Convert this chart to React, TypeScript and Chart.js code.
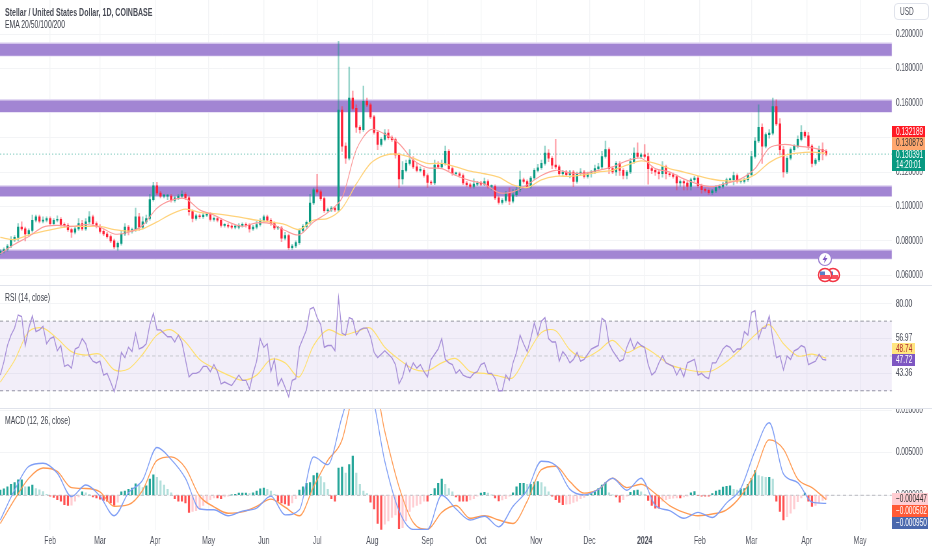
import React, { useEffect, useRef } from "react";
import { Chart, registerables } from "chart.js";
Chart.register(...registerables);

const FONT = '"Liberation Sans", sans-serif';
// The picture is horizontally condensed: each canvas is drawn wider and shown at page width
const SQUEEZE = 0.65;
const PAGE_W = 932;
const CANVAS_W = PAGE_W / SQUEEZE;
const AXIS_W = 40 / SQUEEZE;

// One candle every two days, prices in thousandths of a dollar
const closes = [
  74,75,77,80.5,82,88,87,84,86,92,94,91.5,92,93,
  90,92,92.5,89.5,89,86.5,85,87,90,87,91,94,90,88.5,
  85.5,84,82.5,80,76.5,78.5,84,88,85.5,86.5,94,88,91,93,104,112,
  107.8,106,106,106,103.5,105,106,107,105,97,93,94.5,94,95,95.5,
  92.5,93,92,89,89,88.5,88,88,89,89.5,89,87,88,89.5,92,
  94,92,90,87.5,87.5,81.5,83,76,77,79,86,88.4,90.7,102,109.7,
  108.5,104.5,97.5,98,99,98,156,135,128,163,157,146,144.6,161,159,152,
  143,136,139,142.6,140,138.8,130,116,121,125,127,123,121,121,118,
  114,113.6,124,123,125,132,122,119,119,118,113.6,112.6,111.6,113,113.6,
  113,114.5,111.6,111.6,105,102.3,103.5,107.8,103,106.8,109.7,115.5,114.5,111.6,116.5,121,
  122.5,125,131,128,124,123,119,120,118.5,120,114.5,119,120,117.4,119,
  120,122,123,129,133,122,120,125,121,118,120,126,131,129,130,
  129,122,121,120,119,123,119,118.4,117.4,113.6,114.5,113.6,111.6,115.5,116.5,112,
  109.7,109.3,108,109,111,111.6,113,115.5,115.5,118,114.5,114.5,115.5,118.4,
  129,138,146,135,141.7,142.6,158,148,133,120,128,133,135,139,143,141,
  135,125,127,133,132,130.4,
];
const upperWicks = [
  1,1,1,2,1,2,3,1,1,3,1,1,2,1,
  1,1,2,1,1,1,1,1,3,2,2,3,1,1,
  1,1,1,1,1,1,2,2,1,1,5,2,3,2,3,2,
  2,1,1,1,1,1,1,2,1,1,1,1,1,1,1,
  1,1,1,1,1,1,1,1,1,1,1,1,1,2,1,
  1,1,1,1,1,1,2,1,1,1,1,1,1,5,1,
  9,1,1,1,1,1,40,2,2,18,4,2,1,9,2,1,
  1,1,1,2,2,1,1,1,5,2,6,2,2,2,1,
  1,1,3,2,2,3,1,1,1,1,1,1,1,3,1,
  1,2,1,1,1,1,1,1,3,3,2,5,1,1,1,1,
  2,2,4,2,1,15,1,1,1,1,1,1,2,1,1,
  1,2,2,3,5,1,1,1,1,1,1,2,3,6,1,
  6,2,1,1,1,3,1,1,1,1,1,1,1,1,1,1,
  1,1,1,1,1,1,1,1,1,2,1,1,1,1,
  3,2,13,2,1,2,5,4,3,2,1,1,1,2,4,1,
  2,1,1,2,4,1,
];
const lowerWicks = [
  1,1,1,1,1,2,1,4,1,1,1,1,1,1,
  1,1,1,1,1,1,3,1,1,1,1,1,1,1,
  1,1,1,1,1,2,1,1,2,1,1,2,1,1,1,1,
  1,1,1,2,1,1,1,1,1,2,2,1,1,1,1,
  1,1,1,1,1,1,1,1,1,1,1,2,1,1,1,
  1,1,1,1,1,2,1,1,1,1,1,1,1,1,1,
  1,1,1,1,1,1,1,3,3,1,1,3,2,1,1,1,
  1,3,1,1,1,1,2,5,3,1,1,1,1,1,1,
  3,1,1,1,1,1,1,1,1,1,1,1,1,1,1,
  1,1,1,2,1,1,1,1,2,1,1,1,1,1,1,1,
  1,1,1,2,2,1,1,1,1,2,3,1,1,1,1,
  2,1,1,1,1,3,1,2,3,2,2,1,1,1,1,
  1,9,2,2,3,2,3,1,1,4,2,4,2,2,1,1,
  2,1,1,1,1,1,1,1,1,3,1,1,1,1,
  1,1,1,10,1,2,1,1,3,3,1,1,1,1,1,1,
  2,2,1,1,5,1,
];
const rsi = [
  39,46.7,56,62,66,73.5,72.6,56,66,73,64,65,67,57,
  60,61,53,56,44,45,43,54,55,60,57,50,47,46,
  47,39,40,35,29.5,38,52,49,55,52.5,63,54,55,57,68,74.5,
  65,65,63,61,61,58,62,58,48,38,40,40,41,44,44,
  41,45,41,34,35,34,33,36,39,36,36,31,40,47,60,
  55,57,41,48,33,37,32,26.6,36,37,55,60,65,77,78,
  72,68,55,56,56,53,83.5,63,62,72,71,62,65,66,66,61,
  52,49,51,53,51,49,45,34,38,46,41,46,43,45,41,
  38,48,51,54,60,48,46,45,40,42,39,38,37.5,40,41,
  45,46,40,40,37,30,30,39,36,46,52,62,57,52.5,60,69,
  62,70,72,60,58,58,47,52.5,50,46,48,52,47,48,51,
  54,55,56,71.6,70,57,53,50,47,48,55,60,54,58,56,
  55,45,39,41,46,50,46,45,44,39,43,38,46,47,48,39,
  40,38,37,46,46,50,54,56,55,52,54,54,64,62,
  75,76,60,66,66,73,60,49,50,42,50,48,53,54,56,55,
  45,46,47,51,48,47.72,
];
const histogram = [
  .6,.75,1,1.3,1.5,1.8,1.8,1,1,1.2,.8,.65,.45,.1,
  -.1,-.25,-.5,-.7,-1.1,-1.2,-1.15,-.7,-.2,.4,.3,.1,-.2,-.3,
  -.45,-.6,-.7,-.9,-1.2,-.8,.4,.5,.7,.85,1.35,1.2,.9,1.1,1.9,2.4,
  2.1,1.7,1.2,.7,.3,-.4,-.7,-.7,-.9,-2,-1.9,-1.8,-1.6,-1.2,-.8,
  -.5,-.3,-.3,-.4,-.2,-.1,.05,.1,.25,.25,.25,.2,.3,.5,.75,
  .85,.7,.5,.1,-.7,-.9,-1,-1.2,-.9,-.4,.6,1,1.4,1.5,2.3,
  2.6,2.2,1.5,.7,-.4,-.7,3.2,3.3,2.6,3.6,4.6,2.6,1.3,.5,.2,-.8,
  -1.6,-3.3,-4,-3.4,-3,-2.6,-2.3,-3.9,-3.8,-3,-1.9,-1.4,-1.2,-1,-.7,
  -.7,.1,.8,1.4,1.9,1.3,.8,.4,-.2,-.7,-.7,-.7,-.55,-.4,-.1,
  .25,.35,.25,.05,-.3,-.65,-.55,-.4,-.1,.3,1,1.4,1.4,1.3,1.3,1.55,
  1.6,1.5,1,.4,-.1,-.5,-.85,-1.1,-1.05,-1,-.85,-.7,-.4,-.25,.05,
  .2,.5,.8,1.2,1.5,.3,.05,-.2,-.8,-.5,-.1,.35,.55,.6,.4,
  .1,-.6,-1.2,-1.5,-1.5,-.7,-.5,-.4,-.35,-.3,-.3,-.2,-.1,.3,.45,-.05,
  -.1,-.1,-.1,.2,.5,.6,.95,1.05,1.1,.7,.6,.75,.8,1.3,
  2,2.9,2.3,2.2,2.1,2.1,1.9,-.7,-1.9,-2.9,-2.5,-2.1,-1.6,-.75,-.3,.25,
  -.7,-1.3,-1.2,-.9,-.6,-.447,
];

// Slow series, one reading every eight days
const ema20 = [
  72.5,78,82.5,88,89,88.4,89.5,88,84,85,89,99,103.5,104.5,98,95,91,88.5,90.5,90,86,83.5,
  91,96.5,105,133,144.6,142,136.5,127,122.5,122,118,115,113,108,108.5,112.6,118,121,119.5,119.3,121,
  123,126.5,128,122,120,116,113,111.5,113.5,116,122,134,136,135,134,132.2,
];
const ema50 = [
  82,80.8,83.5,85.5,87.3,88.4,88.4,88.4,86.5,85.7,87,91,95.5,98.4,96.5,95.8,94.8,93.5,92,91,89.5,86.6,
  92,93,99,113,125,129.7,130.3,128,125,125,123,120.5,119,117,112.5,111,115.5,117.5,117.5,118.3,120,
  121,124,126.5,125,122,120,117.8,115.8,114.8,115,118.5,125.5,129.5,131,131.5,130.87,
];
const rsiMa = [
  35,47.5,64,66,60,52.5,50.5,51,42,42.5,51,62,65,58,48,43,39,36,39,48,46,38,56,65,62,64,66,55,48,42.5,41.5,46,48.5,
  41,40,38.5,37.5,51,63.5,64.5,53.5,49,53,59,52,55.5,51,45,42.5,41,41.5,46.7,54,62,68,57,50,51,48.74,
];
const macdLine = [
  -2.9,.6,3.4,3.75,2.6,-.15,1.2,-.1,-2.4,.3,1.8,5.6,4.2,2,-1.6,-1.7,-2.4,-1.85,-1.5,-.1,-2.3,-1.7,4.5,3.6,9.2,14,12.5,4,-1.8,-4,-4,0,-1.6,
  -2.9,-2.45,-3.7,-1.3,.6,4,3.5,.7,.05,.7,2,.6,2,-1.2,-1.8,-2.7,-2,-2.6,-.9,.8,5.2,8.5,2.5,1.5,-.8,-.95,
];
const signalLine = [
  -3.3,-.5,2,3.2,2.8,.9,.8,.4,-1.3,-1.1,.6,4.1,4.5,3.2,-.1,-1.35,-2.1,-1.95,-1.3,-.45,-1.4,-2.4,1,4.1,6.5,13.5,15,7.5,1,-3.2,-4,-2,-1.2,
  -2.7,-2.4,-2.9,-3.3,-.7,3,3.4,1.6,.25,.7,2,.9,1.3,.2,-1.2,-2,-2.4,-2.2,-1.7,-.1,2.7,6.5,5.4,1.9,.9,-.5,
];

// Support and resistance bands [upper, lower], thousandths of a dollar
const zones = [[194.9, 187.6], [162, 154.8], [112, 105.9], [74.8, 69.6]];
const lastPrice = 130.391;

const monthDays = [28, 56, 87, 117, 148, 178, 209, 240, 270, 301, 331, 362, 393, 422, 453, 483];
const monthLabels = ["Feb", "Mar", "Apr", "May", "Jun", "Jul", "Aug", "Sep", "Oct", "Nov", "Dec", "2024", "Feb", "Mar", "Apr", "May"];
const priceTicks = [60, 80, 100, 120, 140, 160, 180, 200];
const rsiTicks = [40, 60, 80];
const rsiTickLabels = ["43.36", "56.97", "80.00"];
const macdTicks = [0, 5, 10];

const CANDLE_STEP = 2;
const EMA_STEP = 8;
const X_MIN = -0.17;
const X_MAX = 500.96;
const GRID = "#f3f4f6";
const TEXT = "#50535e";
const candleDays = closes.map((_, i) => i * CANDLE_STEP);
const opens = closes.map((c, i) => (i === 0 ? 73 : closes[i - 1]));
const slow = (values: number[]) => values.map((y, i) => ({ x: i * EMA_STEP, y }));
const flat = (y: number) => [{ x: X_MIN, y }, { x: X_MAX, y }];
const lineDefaults = { type: "line", pointRadius: 0, pointHoverRadius: 0, fill: false };
const noPadding = (s: any) => { s.paddingTop = 0; s.paddingBottom = 0; s.paddingLeft = 0; s.paddingRight = 0; };

function xScale(showLabels: boolean) {
  return {
    type: "linear",
    offset: false,
    min: X_MIN,
    max: X_MAX,
    grid: { color: GRID, lineWidth: 1.4, drawTicks: false, offset: false },
    border: { display: false },
    afterBuildTicks: (s: any) => { s.ticks = monthDays.map((value) => ({ value })); },
    afterFit: (s: any) => { s.height = showLabels ? 20 : 0; noPadding(s); },
    ticks: {
      display: showLabels,
      autoSkip: false,
      maxRotation: 0,
      padding: 5,
      color: TEXT,
      font: (c: any) => ({ family: FONT, size: 10.5, weight: monthLabels[c.index] === "2024" ? "bold" : "normal" }),
      callback: (_: any, i: number) => monthLabels[i],
    },
  };
}
function yScale(min: number, max: number, tickValues: number[], label: (v: number, i: number) => string) {
  return {
    position: "right",
    min,
    max,
    grid: { color: GRID, drawTicks: false },
    border: { display: false },
    afterBuildTicks: (s: any) => { s.ticks = tickValues.map((value) => ({ value })); },
    afterFit: (s: any) => { s.width = AXIS_W; noPadding(s); },
    ticks: { padding: 6, color: TEXT, font: { family: FONT, size: 10 }, callback: label },
  };
}
const baseOptions = {
  responsive: false,
  animation: false,
  events: [],
  layout: { padding: 0 },
  plugins: { legend: { display: false }, tooltip: { enabled: false }, title: { display: false } },
};

function priceConfig() {
  const zoneSets = zones.flatMap(([hi, lo]) => [
    { ...lineDefaults, data: flat(hi), borderColor: "#e3daf3", borderWidth: 1.5, fill: "+1", backgroundColor: "#a285d3", order: 10 },
    { ...lineDefaults, data: flat(lo), borderColor: "#e3daf3", borderWidth: 1.5, order: 10 },
  ]);
  return {
    type: "bar",
    data: {
      datasets: [
        ...zoneSets,
        { ...lineDefaults, data: flat(lastPrice), borderColor: "rgba(8,153,129,0.5)", borderWidth: 1, borderDash: [2, 3], order: 9 },
        {
          data: candleDays.map((x, i) => ({
            x,
            y: [Math.min(opens[i], closes[i]) - lowerWicks[i], Math.max(opens[i], closes[i]) + upperWicks[i]],
          })),
          backgroundColor: closes.map((c, i) => (c >= opens[i] ? "rgba(8,153,129,0.42)" : "rgba(255,40,60,0.42)")),
          barThickness: 1.8,
          grouped: false,
          order: 6,
        },
        {
          data: candleDays.map((x, i) => ({ x, y: [opens[i], closes[i]] })),
          backgroundColor: closes.map((c, i) => (c >= opens[i] ? "#089981" : "#ff1f35")),
          barThickness: 2.7,
          minBarLength: 1,
          grouped: false,
          order: 5,
        },
        { ...lineDefaults, data: slow(ema50), borderColor: "#ffd27a", borderWidth: 1.3, tension: 0.3, order: 4 },
        { ...lineDefaults, data: slow(ema20), borderColor: "#fb9a9a", borderWidth: 1.2, tension: 0.3, order: 3 },
      ],
    },
    options: {
      ...baseOptions,
      scales: {
        x: xScale(false),
        y: yScale(54.36, 219.94, priceTicks, (v: number) => (v / 1000).toFixed(6)),
      },
    },
  };
}
function rsiConfig() {
  const dash = { ...lineDefaults, borderColor: "#9598a1", borderWidth: 1, borderDash: [5, 4] };
  return {
    type: "line",
    data: {
      datasets: [
        { ...dash, data: flat(70), fill: "+1", backgroundColor: "rgba(126,87,194,0.1)", order: 9 },
        { ...dash, data: flat(30), order: 9 },
        { ...dash, data: flat(50), borderColor: "#c6c8ce", order: 8 },
        { ...lineDefaults, data: slow(rsiMa), borderColor: "#ffdf6b", borderWidth: 1.2, tension: 0.3, order: 3 },
        { ...lineDefaults, data: candleDays.map((x, i) => ({ x, y: rsi[i] })), borderColor: "#a78fd8", borderWidth: 1.4, order: 2 },
      ],
    },
    options: {
      ...baseOptions,
      scales: {
        x: xScale(false),
        y: yScale(20.1, 90.2, rsiTicks, (v: number) => rsiTickLabels[rsiTicks.indexOf(v)]),
      },
    },
  };
}
function macdConfig() {
  const histColor = (v: number, i: number) => {
    const prev = i > 0 ? histogram[i - 1] : 0;
    if (v >= 0) return v >= prev ? "#26a69a" : "#b2dfdb";
    return v <= prev ? "#ff5252" : "#ffcdd2";
  };
  return {
    type: "bar",
    data: {
      datasets: [
        { ...lineDefaults, data: flat(0), borderColor: "#b9bbc1", borderWidth: 1, borderDash: [5, 4], order: 9 },
        {
          data: candleDays.map((x, i) => ({ x, y: histogram[i] })),
          backgroundColor: histogram.map(histColor),
          barThickness: 2.6,
          grouped: false,
          order: 5,
        },
        { ...lineDefaults, data: slow(signalLine), borderColor: "#ff9a52", borderWidth: 1.4, cubicInterpolationMode: "monotone", order: 3 },
        { ...lineDefaults, data: slow(macdLine), borderColor: "#7f9ef5", borderWidth: 1.4, cubicInterpolationMode: "monotone", order: 2 },
      ],
    },
    options: {
      ...baseOptions,
      scales: {
        x: xScale(true),
        y: yScale(-4.07, 10.12, macdTicks, (v: number) => (v / 1000).toFixed(6)),
      },
    },
  };
}

function Pane({ top, height, make }: { top: number; height: number; make: () => any }) {
  const ref = useRef<HTMLCanvasElement>(null);
  useEffect(() => {
    const chart = new Chart(ref.current as any, make());
    return () => chart.destroy();
  }, []);
  return <canvas ref={ref} width={CANVAS_W} height={height} style={{ position: "absolute", left: 0, top, width: PAGE_W, height }} />;
}

const narrow = { transform: `scaleX(${SQUEEZE})`, transformOrigin: "left center", whiteSpace: "nowrap" as const };

function Label({ x, y, text, size = 10, color = "#3d404a", weight = 400 }: any) {
  return (
    <div style={{ ...narrow, position: "absolute", left: x, top: y, font: `${weight} ${size}px ${FONT}`, color, lineHeight: "12px" }}>
      {text}
    </div>
  );
}
function Badge({ top, height, right, bg, color, lines }: any) {
  return (
    <div style={{ position: "absolute", left: 892, top, width: right - 892, height, background: bg, color, font: `10px ${FONT}`, lineHeight: `${height / lines.length}px`, paddingLeft: 4, boxSizing: "border-box" }}>
      {lines.map((l: string) => <div key={l} style={narrow}>{l}</div>)}
    </div>
  );
}
function FlagCircle({ cx }: { cx: number }) {
  return (
    <svg style={{ position: "absolute", left: cx - 8, top: 267 }} width={16} height={16}>
      <circle cx={8} cy={8} r={6.5} fill="#fff" stroke="#f23645" strokeWidth={1.5} />
      <rect x={3} y={8} width={10} height={4} fill="#f7525f" />
      <rect x={3} y={4.5} width={5} height={3.5} fill="#5b7fc7" />
    </svg>
  );
}

export default function App() {
  return (
    <div style={{ position: "fixed", left: 0, top: 0, width: PAGE_W, height: 550, background: "#fff", overflow: "hidden" }}>
      <Pane top={0} height={285} make={priceConfig} />
      <div style={{ position: "absolute", left: 0, top: 285, width: PAGE_W, height: 1, background: "#e0e3eb" }} />
      <Pane top={286} height={122} make={rsiConfig} />
      <div style={{ position: "absolute", left: 0, top: 408, width: PAGE_W, height: 1, background: "#e0e3eb" }} />
      <Pane top={409} height={141} make={macdConfig} />

      <Label x={5} y={5.5} text="Stellar / United States Dollar, 1D, COINBASE" size={10.8} weight={700} color="#4a4d57" />
      <Label x={5} y={18} text="EMA 20/50/100/200" size={10.5} />
      <Label x={5} y={291} text="RSI (14, close)" size={10.5} />
      <Label x={5} y={414} text="MACD (12, 26, close)" size={10.5} />

      <div style={{ position: "absolute", left: 894, top: 3, width: 35, height: 17, border: "1px solid #e0e3eb", borderRadius: 4, boxSizing: "border-box", font: `10px/15px ${FONT}`, color: TEXT, paddingLeft: 5 }}>
        <div style={narrow}>USD</div>
      </div>

      <Badge top={125.5} height={11.5} right={925} bg="#ff1a24" color="#fff" lines={["0.132189"]} />
      <Badge top={137} height={12.5} right={925} bg="#ffa76e" color="#333" lines={["0.130873"]} />
      <Badge top={149.5} height={21} right={925} bg="#089981" color="#fff" lines={["0.130391", "14:20:01"]} />

      <Badge top={342.5} height={11.5} right={915} bg="#ffe57f" color="#b02a30" lines={["48.74"]} />
      <Badge top={354.3} height={11.7} right={915} bg="#7e57c2" color="#fff" lines={["47.72"]} />

      <Badge top={492.7} height={12.3} right={928} bg="#ffcdd2" color="#333" lines={["\u22120.000447"]} />
      <Badge top={505} height={11.5} right={928} bg="#ff5a36" color="#fff" lines={["\u22120.000502"]} />
      <Badge top={516.5} height={12} right={928} bg="#4a68ad" color="#fff" lines={["\u22120.000950"]} />

      <svg style={{ position: "absolute", left: 817, top: 251 }} width={16} height={16}>
        <circle cx={8} cy={8} r={6.5} fill="#fff" stroke="#9b7fd1" strokeWidth={1.2} />
        <path d="M9 3.5 L5.5 9 H7.8 L7 12.5 L10.5 7 H8.2 Z" fill="#7e57c2" />
      </svg>
      <FlagCircle cx={833} />
      <FlagCircle cx={825} />
    </div>
  );
}
